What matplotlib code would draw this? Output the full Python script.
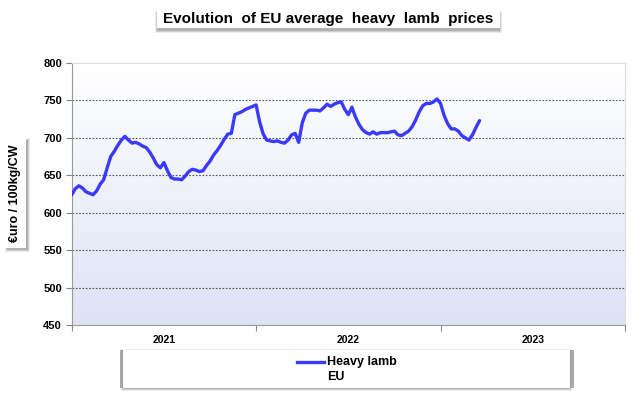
import numpy as np
import matplotlib
matplotlib.use("Agg")
import matplotlib.pyplot as plt
from matplotlib.patches import Rectangle

plt.rcParams['font.family'] = ['Liberation Sans', 'DejaVu Sans']

# weekly EU heavy lamb prices, starting week 1 of 2021 (euro / 100kg CW)
prices = [624, 632, 636, 633, 628, 626, 624, 629, 638, 644,
          660, 675, 682, 690, 697, 702, 697, 693, 694, 692,
          689, 687, 681, 673, 664, 660, 667, 656, 647, 645,
          645, 644, 649, 655, 658, 657, 655, 656, 663, 669,
          677, 683, 690, 698, 705, 706, 731, 733, 735, 738,
          740, 742, 744, 721, 705, 697, 696, 695, 696, 694,
          693, 697, 704, 706, 694, 720, 733, 737, 737, 737,
          736, 740, 745, 742, 745, 747, 748, 738, 731, 741,
          728, 718, 711, 707, 705, 708, 705, 707, 707, 707,
          708, 709, 704, 703, 706, 709, 715, 724, 735, 743,
          746, 746, 748, 752, 746, 730, 719, 712, 712, 709,
          703, 700, 697, 704, 714, 723]
weeks = np.arange(len(prices))
years = ['2021', '2022', '2023']
weeks_per_year = 52

W, H = 633, 394
fig = plt.figure(figsize=(W / 100, H / 100), dpi=100)
ax = fig.add_axes([0.1133, 0.1751, 0.874, 0.665])


def px_box(x0, y0, x1, y1, shadow=(2, 3), zorder=1):
    # white box given in pixel coords (top-left origin) with a soft grey shadow
    dx, dy = shadow
    for k, a in enumerate([0.12, 0.18, 0.28]):
        g = 2 - k
        fig.patches.append(Rectangle(((x0 + dx - g) / W, 1 - (y1 + dy + g) / H),
                                     (x1 - x0 + 2 * g) / W, (y1 - y0 + 2 * g) / H,
                                     transform=fig.transFigure, fc='#606060', ec='none',
                                     alpha=a, zorder=zorder))
    fig.patches.append(Rectangle((x0 / W, 1 - y1 / H), (x1 - x0) / W, (y1 - y0) / H,
                                 transform=fig.transFigure, fc='white', ec='none',
                                 zorder=zorder + 1))


# gradient background
grad = np.linspace(0, 1, 256).reshape(-1, 1)
cmap = matplotlib.colors.LinearSegmentedColormap.from_list('bg', ['#dde3f4', '#ffffff'])
ax.imshow(grad, aspect='auto', cmap=cmap, origin='lower',
          extent=[0, weeks_per_year * 3, 450, 800], zorder=0)

ax.plot(weeks, prices, color='#3a3aff', lw=2.4, zorder=3, solid_capstyle='round')

ax.set_xlim(0, weeks_per_year * 3)
ax.set_ylim(450, 800)
ax.set_yticks(range(450, 801, 50))
for v in range(500, 800, 50):
    ax.axhline(v, color='#555555', lw=0.8, ls=(0, (1.5, 1.5)), zorder=1)

ax.set_xticks([i * weeks_per_year for i in range(4)])
ax.set_xticklabels([])
ax.set_xticks([i * weeks_per_year + weeks_per_year / 2 for i in range(3)], minor=True)
ax.set_xticklabels(years, minor=True, fontsize=7.5, fontweight='bold')
ax.tick_params(axis='x', which='minor', length=0, pad=7)
ax.tick_params(axis='x', which='major', length=4, color='#888888', direction='out')
ax.tick_params(axis='y', length=4, color='#888888', labelsize=8, pad=3)
for lab in ax.get_yticklabels():
    lab.set_fontweight('bold')

for s in ['left', 'bottom']:
    ax.spines[s].set_color('#999999')
for s in ['top', 'right']:
    ax.spines[s].set_color('#dddddd')

# title box
px_box(157, 10, 500, 28, shadow=(0, 3))
fig.text(328.5 / W, 1 - 19 / H, 'Evolution  of EU average  heavy  lamb  prices', ha='center',
         va='center', fontsize=11, fontweight='bold', zorder=5)

# y-label box
px_box(5, 138, 26, 248, shadow=(2, 2))
fig.text(15.5 / W, 1 - 193 / H, '€uro / 100kg/CW', rotation=90, ha='center', va='center',
         fontsize=9, fontweight='bold', zorder=5)

# legend box
px_box(123, 350, 570, 388, shadow=(0, 1))
fig.patches.append(Rectangle((120 / W, 1 - 388 / H), 3 / W, 38 / H, transform=fig.transFigure,
                             fc='#888888', ec='none', alpha=0.7, zorder=1))
fig.patches.append(Rectangle((570 / W, 1 - 388 / H), 4 / W, 38 / H, transform=fig.transFigure,
                             fc='#888888', ec='none', alpha=0.7, zorder=1))
fig.add_artist(plt.Line2D([297 / W, 324 / W], [1 - 362 / H, 1 - 362 / H],
                          transform=fig.transFigure, color='#3a3aff', lw=2.4, zorder=5))
fig.text(327 / W, 1 - 362 / H, 'Heavy lamb', ha='left', va='center', fontsize=9,
         fontweight='bold', zorder=5)
fig.text(327 / W, 1 - 377 / H, 'EU', ha='left', va='center', fontsize=9,
         fontweight='bold', zorder=5)

fig.savefig('out.png', dpi=100)
